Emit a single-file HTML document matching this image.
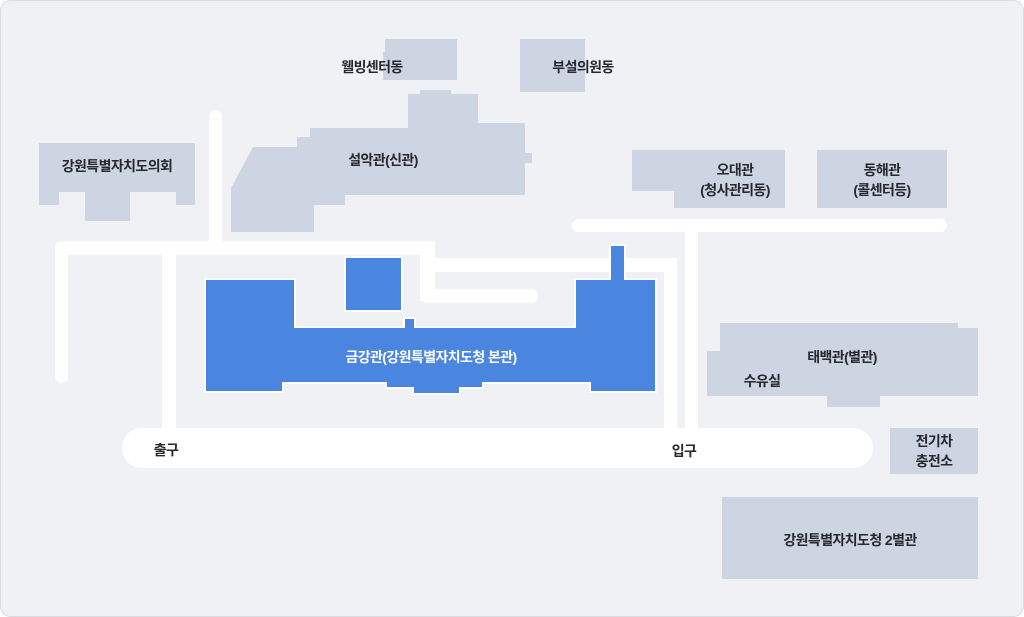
<!DOCTYPE html>
<html><head><meta charset="utf-8"><style>
html,body{margin:0;padding:0;background:#fff}
svg{display:block}
text{font-family:"Liberation Sans","Noto Sans CJK KR",sans-serif;font-size:14px;fill:#26282e;text-anchor:middle;font-weight:600;letter-spacing:-0.6px}
</style></head><body>
<svg width="1024" height="617" viewBox="0 0 1024 617" xmlns="http://www.w3.org/2000/svg">
<rect x="0.5" y="0.5" width="1023" height="616" rx="10" fill="#f0f1f5" stroke="#d9dbe1"/>
<g fill="#cdd4e2">
<rect x="385" y="39" width="72" height="41"/><rect x="383" y="52" width="12" height="28"/>
<rect x="520" y="39" width="65" height="53"/>
<polygon points="231,232 314,232 314,205 345,205 345,195 525,195 525,163 532,163 532,153 525,153 525,123 478,123 478,94 451,94 451,90 420,90 420,94 408,94 408,128 310,128 310,137 297,137 297,147 253,147 231,188"/>
<polygon points="39,143 195,143 195,205 176,205 176,192 130,192 130,221 85,221 85,192 59,192 59,205 39,205"/>
<polygon points="632,150 785,150 785,208 674,208 674,191 632,191"/>
<rect x="817" y="150" width="130" height="58"/>
<polygon points="720,323 958,323 958,328 978,328 978,396 880,396 880,407 827,407 827,396 707,396 707,351 720,351"/>
<rect x="890" y="428" width="88" height="46"/>
<rect x="722" y="497" width="256" height="82"/>
</g>
<g fill="#fff">
<rect x="572" y="219" width="375" height="13" rx="6.5"/>
<rect x="685" y="225" width="13" height="215"/>
<rect x="664" y="258" width="13" height="182"/>
<rect x="209" y="110" width="13" height="140" rx="6.5"/>
<rect x="55" y="241" width="380" height="14" rx="7"/>
<rect x="55" y="241" width="13" height="142" rx="6.5"/>
<rect x="162" y="250" width="14" height="190"/>
<rect x="420" y="258" width="257" height="14" rx="7"/>
<rect x="420" y="241" width="15" height="60"/>
<rect x="420" y="289" width="118" height="14" rx="7"/>
<rect x="122" y="428" width="751" height="40" rx="20"/>
</g>
<g fill="#4a86e0" stroke="#fff" stroke-width="2">
<rect x="345" y="257" width="57" height="54"/>
<polygon points="205,279 295,279 295,327 404,327 404,318 415,318 415,327 575,327 575,279 610,279 610,245 625,245 625,279 656,279 656,392 590,392 590,383 483,383 483,388 460,388 460,394 413,394 413,388 386,388 386,383 283,383 283,392 205,392"/>
</g>
<text x="372" y="72">웰빙센터동</text>
<text x="583" y="72">부설의원동</text>
<text x="383" y="165">설악관(신관)</text>
<text x="117" y="171">강원특별자치도의회</text>
<text x="735" y="175">오대관</text>
<text x="735" y="195">(청사관리동)</text>
<text x="882" y="175">동해관</text>
<text x="882" y="195">(콜센터등)</text>
<text x="431" y="362" style="fill:#fff">금강관(강원특별자치도청 본관)</text>
<text x="842" y="362">태백관(별관)</text>
<text x="762" y="386">수유실</text>
<text x="166" y="455">출구</text>
<text x="684" y="456">입구</text>
<text x="934" y="446">전기차</text>
<text x="934" y="466">충전소</text>
<text x="850" y="545">강원특별자치도청 2별관</text>
</svg>
</body></html>
